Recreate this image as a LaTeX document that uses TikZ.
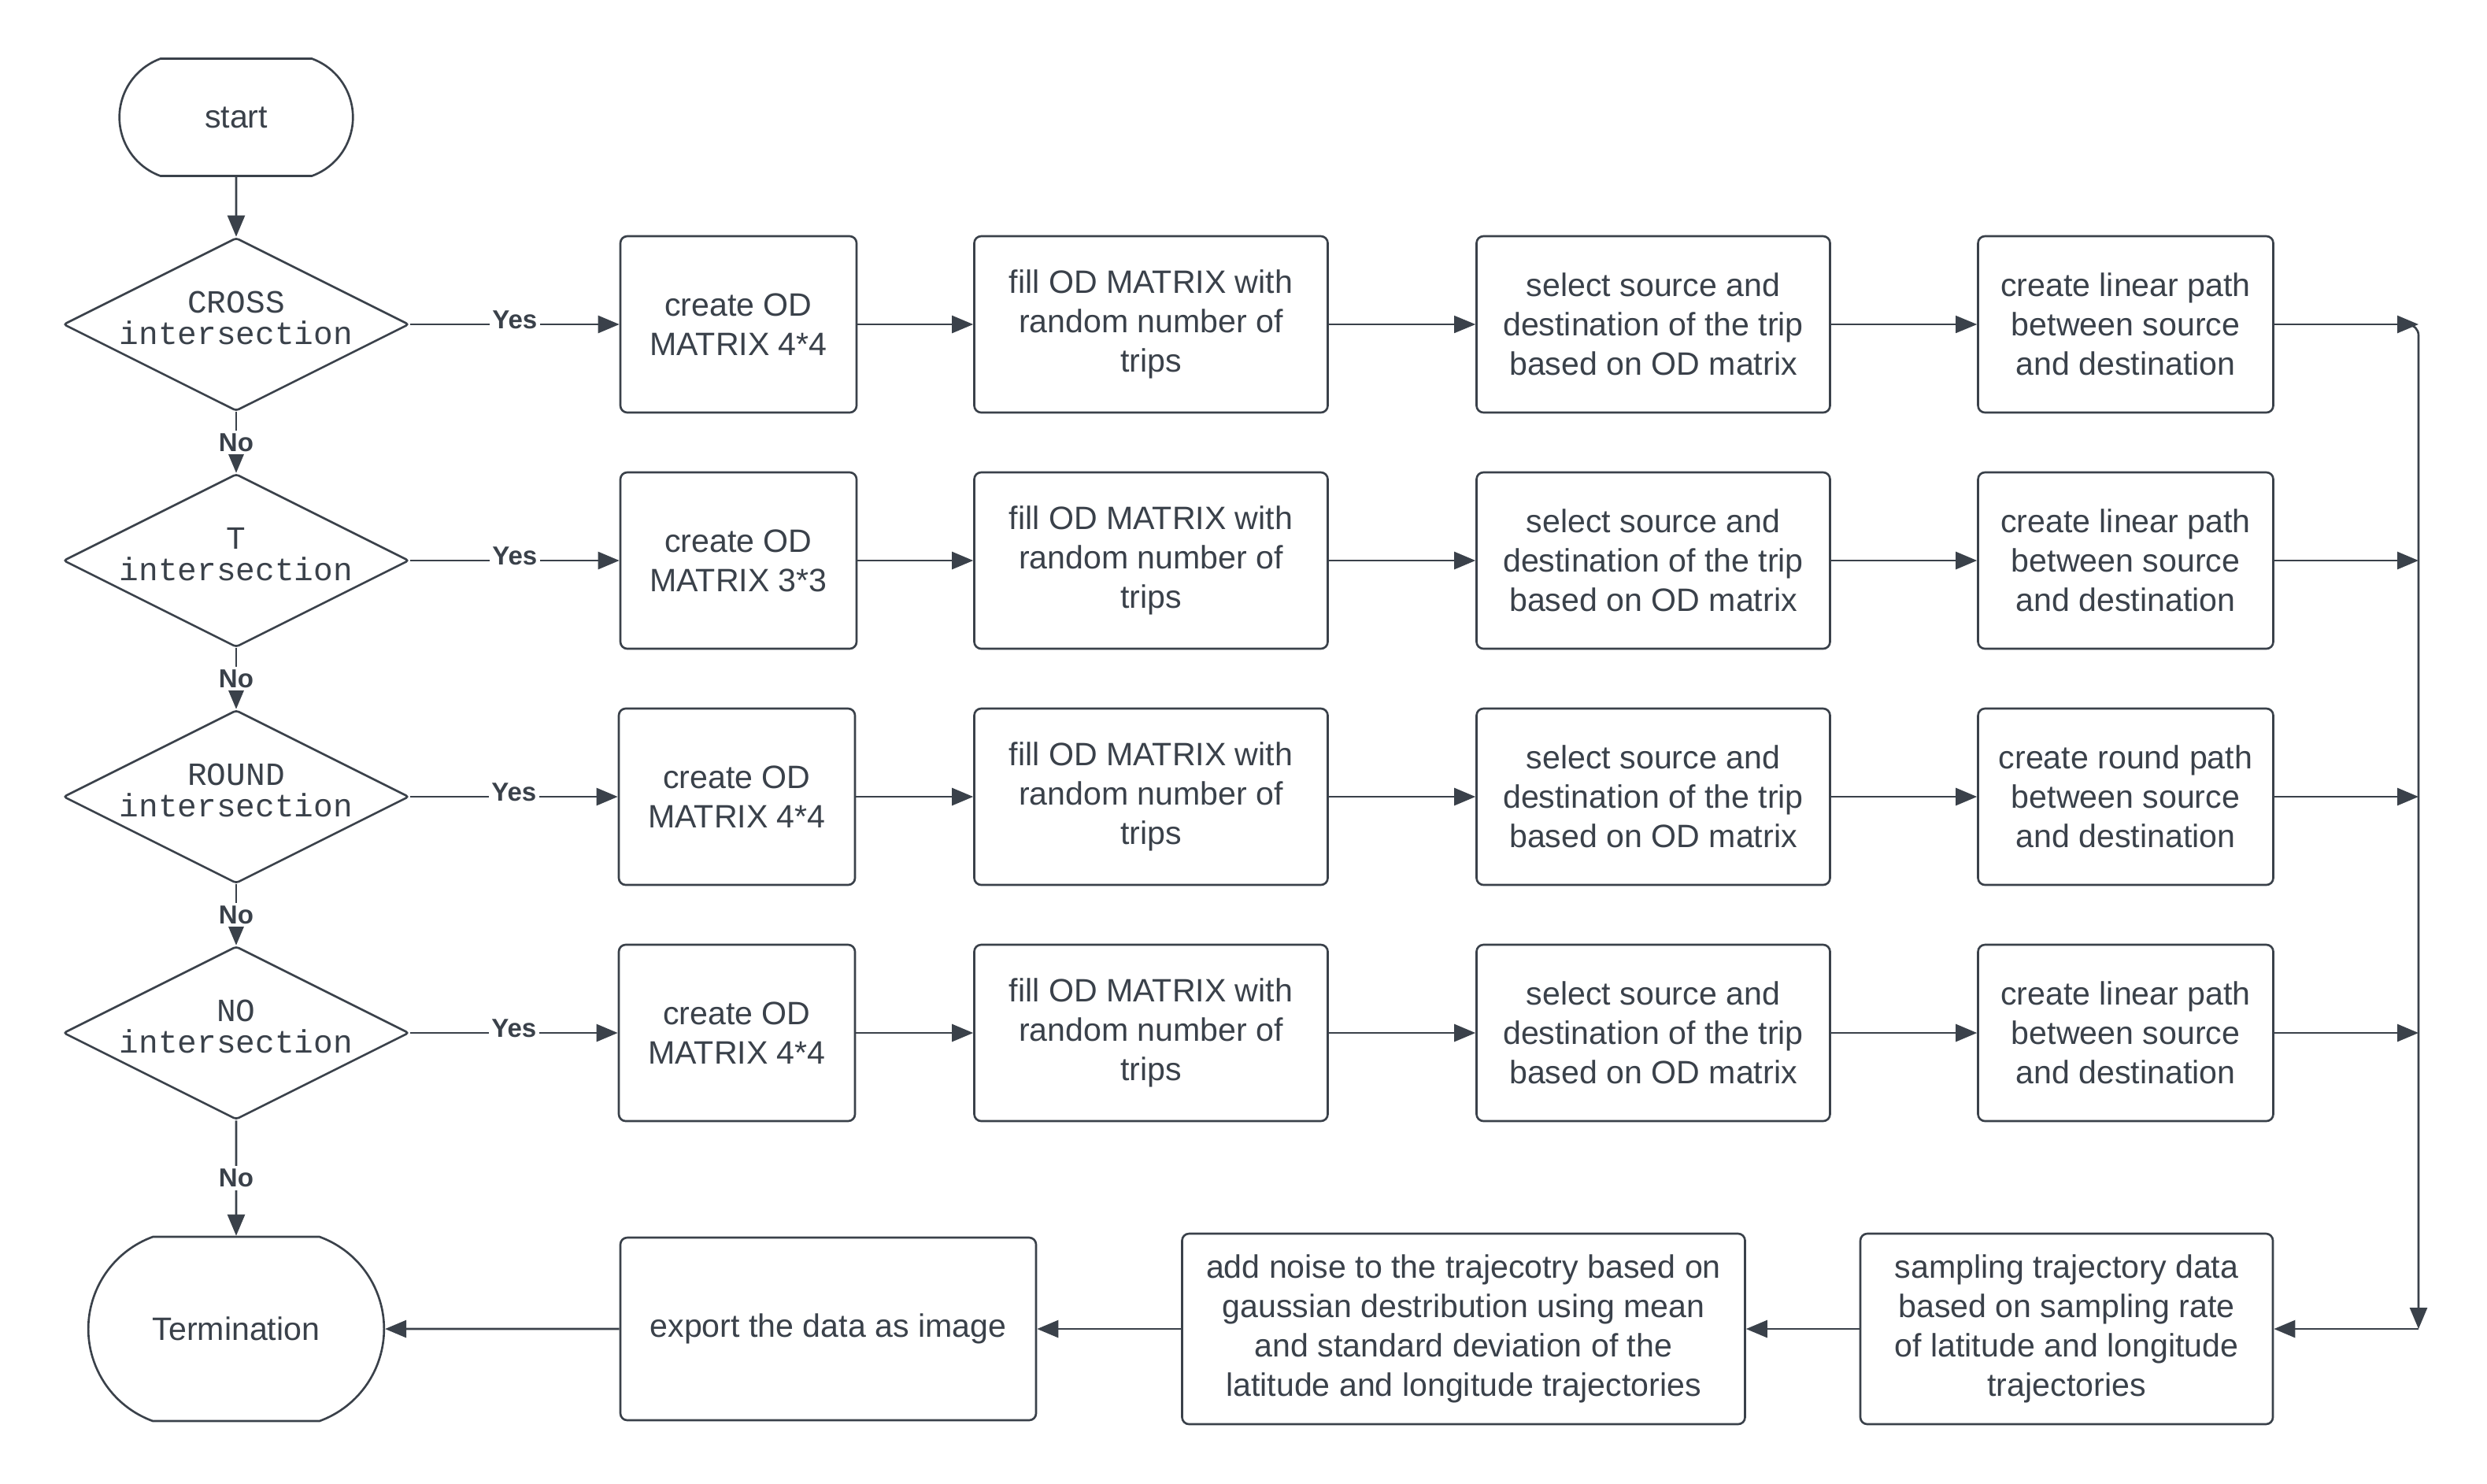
\documentclass[tikz,border=0pt]{standalone}
\usepackage{fontspec}
\setmainfont{Liberation Sans}
\setmonofont{Liberation Mono}
\usetikzlibrary{positioning, arrows.meta, calc, shapes.geometric, shapes.misc}
\definecolor{ink}{HTML}{3A414A}
\tikzset{
  flowchart/.style={
	->,  % makes the edges directed
	>={Triangle[length=0.27cm, width=0.22cm]}, % filled heads
	line width=0.75pt, color=ink, % one dark grey for lines and text
	node distance=3cm, % centre to centre, moved on with xshift and yshift
	font=\fontsize{11.7}{14.2}\selectfont,
  },
  process/.style={rectangle, draw, rounded corners=2.5pt, minimum height=2.24cm, align=center, inner sep=2pt},
  odbox/.style={process, minimum width=3cm},
  widebox/.style={process, minimum width=4.49cm},
  pathbox/.style={process, minimum width=3.75cm},
  decision/.style={diamond, draw, minimum width=4.39cm, minimum height=2.2cm, inner sep=0pt, rounded corners=1pt},
  dectext/.style={font=\ttfamily\fontsize{11.7}{11.2}\selectfont, align=center, text=ink, yshift=0.08cm},
  terminal/.style={rounded rectangle, rounded rectangle arc length=140, draw, minimum width=3.2cm, minimum height=1.49cm},
  lbl/.style={font=\bfseries\fontsize{9.4}{10}\selectfont, fill=white, inner sep=1pt},
}

\begin{document}
\begin{tikzpicture}[flowchart]
\useasboundingbox (-3.0,1.49) rectangle (28.59,-17.35);
\node[terminal, yshift=0cm, xshift=0cm] (start) {start};
% the four tests
\node[decision, below of=start, yshift=0.37cm, xshift=0cm, label={[dectext]center:{CROSS\\intersection}}] (cross) {};
\node[decision, below of=cross, yshift=0cm, xshift=0cm, label={[dectext]center:{T\\intersection}}] (tee) {};
\node[decision, below of=tee, yshift=0cm, xshift=0cm, label={[dectext]center:{ROUND\\intersection}}] (round) {};
\node[decision, below of=round, yshift=0cm, xshift=0cm, label={[dectext]center:{NO\\intersection}}] (none) {};
% row 1
\node[odbox, right of=cross, yshift=0cm, xshift=3.38cm] (od1) {create OD\\MATRIX 4*4};
\node[widebox, right of=od1, yshift=0cm, xshift=2.24cm] (fill1) {fill OD MATRIX with\\random number of\\trips};
\node[widebox, right of=fill1, yshift=0cm, xshift=3.38cm] (sel1) {select source and\\destination of the trip\\based on OD matrix};
\node[pathbox, right of=sel1, yshift=0cm, xshift=3cm] (path1) {create linear path\\between source\\and destination};
% row 2
\node[odbox, right of=tee, yshift=0cm, xshift=3.38cm] (od2) {create OD\\MATRIX 3*3};
\node[widebox, right of=od2, yshift=0cm, xshift=2.24cm] (fill2) {fill OD MATRIX with\\random number of\\trips};
\node[widebox, right of=fill2, yshift=0cm, xshift=3.38cm] (sel2) {select source and\\destination of the trip\\based on OD matrix};
\node[pathbox, right of=sel2, yshift=0cm, xshift=3cm] (path2) {create linear path\\between source\\and destination};
% row 3
\node[odbox, right of=round, yshift=0cm, xshift=3.36cm] (od3) {create OD\\MATRIX 4*4};
\node[widebox, right of=od3, yshift=0cm, xshift=2.26cm] (fill3) {fill OD MATRIX with\\random number of\\trips};
\node[widebox, right of=fill3, yshift=0cm, xshift=3.38cm] (sel3) {select source and\\destination of the trip\\based on OD matrix};
\node[pathbox, right of=sel3, yshift=0cm, xshift=3cm] (path3) {create round path\\between source\\and destination};
% row 4
\node[odbox, right of=none, yshift=0cm, xshift=3.36cm] (od4) {create OD\\MATRIX 4*4};
\node[widebox, right of=od4, yshift=0cm, xshift=2.26cm] (fill4) {fill OD MATRIX with\\random number of\\trips};
\node[widebox, right of=fill4, yshift=0cm, xshift=3.38cm] (sel4) {select source and\\destination of the trip\\based on OD matrix};
\node[pathbox, right of=sel4, yshift=0cm, xshift=3cm] (path4) {create linear path\\between source\\and destination};
% collecting line on the right
\coordinate[right of=path1, xshift=0.72cm] (m1);
\coordinate[right of=path2, xshift=0.72cm] (m2);
\coordinate[right of=path3, xshift=0.72cm] (m3);
\coordinate[right of=path4, xshift=0.72cm] (m4);
% bottom row, right to left
\node[terminal, below of=none, yshift=-0.76cm, xshift=0cm, minimum width=3.99cm, minimum height=2.34cm] (term) {Termination};
\node[process, right of=term, yshift=0cm, xshift=4.52cm, minimum width=5.28cm, minimum height=2.32cm] (export) {export the data as image};
\node[process, right of=export, yshift=0cm, xshift=5.07cm, minimum width=7.15cm, minimum height=2.42cm] (noise) {add noise to the trajecotry based on\\gaussian destribution using mean\\and standard deviation of the\\latitude and longitude trajectories};
\node[process, right of=noise, yshift=0cm, xshift=4.66cm, minimum width=5.24cm, minimum height=2.42cm] (sample) {sampling trajectory data\\based on sampling rate\\of latitude and longitude\\trajectories};
\coordinate (mb) at (m4 |- sample.east);
\draw   (start) edge (cross)
	(cross) edge node[lbl, yshift=1.5pt]{Yes} (od1)
	(tee) edge node[lbl, yshift=1.5pt]{Yes} (od2)
	(round) edge node[lbl, yshift=1.5pt]{Yes} (od3)
	(none) edge node[lbl, yshift=1.5pt]{Yes} (od4)
	(cross) edge node[lbl]{No} (tee)
	(tee) edge node[lbl]{No} (round)
	(round) edge node[lbl]{No} (none)
	(none) edge node[lbl]{No} (term)
	(od1) edge (fill1)
	(fill1) edge[line width=0.4pt] (sel1)
	(sel1) edge[line width=0.4pt] (path1)
	(path1) edge (m1)
	(od2) edge (fill2)
	(fill2) edge (sel2)
	(sel2) edge (path2)
	(path2) edge (m2)
	(od3) edge (fill3)
	(fill3) edge (sel3)
	(sel3) edge (path3)
	(path3) edge (m3)
	(od4) edge (fill4)
	(fill4) edge (sel4)
	(sel4) edge (path4)
	(path4) edge (m4)
	(sample) edge (noise)
	(noise) edge (export)
	(export) edge (term)
;
\draw[rounded corners=4pt] ($(m1)+(-0.1,0)$) -- (m1) -- (mb);
\draw (mb) -- (sample);
\end{tikzpicture}
\end{document}
